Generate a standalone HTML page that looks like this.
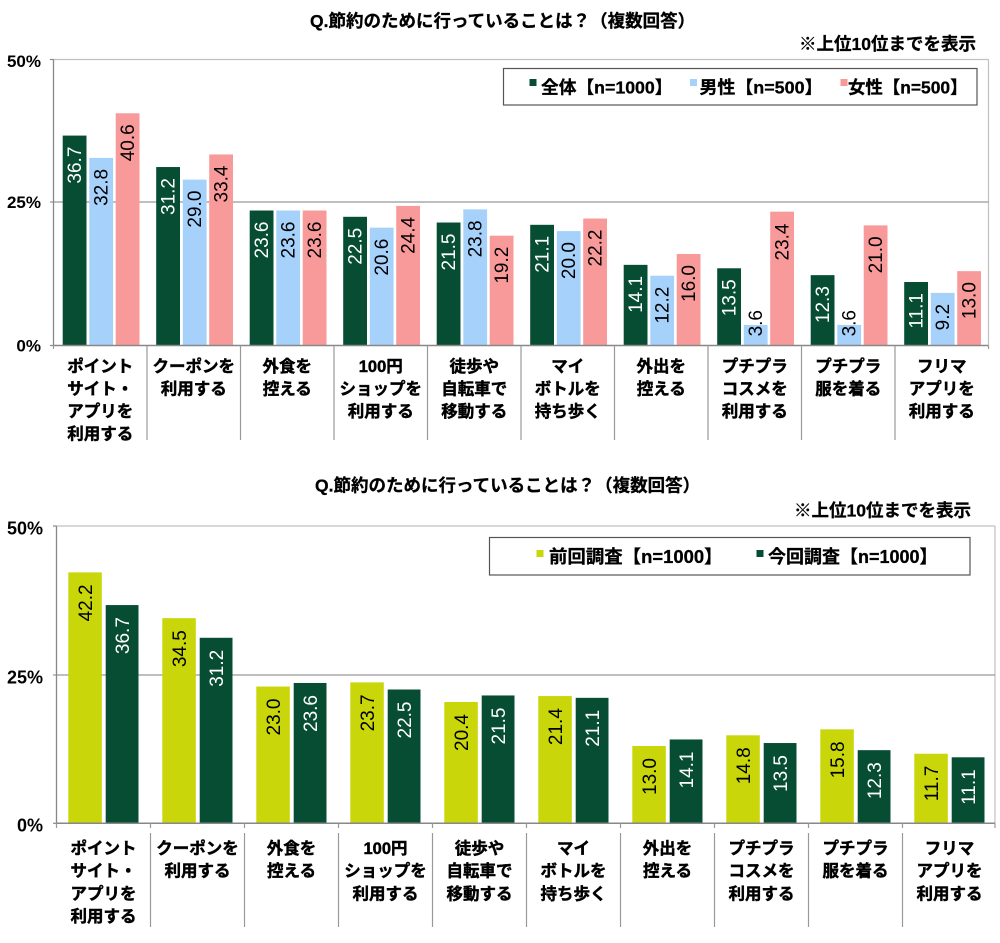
<!DOCTYPE html>
<html>
<head>
<meta charset="utf-8">
<style>
html,body{margin:0;padding:0;background:#fff;}
svg{display:block;}
.t{font-family:"Liberation Sans","Noto Sans CJK JP",sans-serif;font-weight:bold;fill:#000;stroke:#000;stroke-width:0.3;}
.y{font-family:"Liberation Sans",sans-serif;font-weight:bold;fill:#000;text-anchor:end;}
.v{font-family:"Liberation Sans",sans-serif;font-size:19px;text-anchor:end;}
.w{fill:#fff;}
.k{fill:#000;}
.c{font-family:"Liberation Sans","Noto Sans CJK JP",sans-serif;font-weight:bold;font-size:16.5px;text-anchor:middle;fill:#000;stroke:#000;stroke-width:0.45;}
</style>
</head>
<body>
<svg width="1000" height="943" viewBox="0 0 1000 943" xmlns="http://www.w3.org/2000/svg">
<rect x="0" y="0" width="1000" height="943" fill="#fff"/>

<!-- ================= TOP CHART ================= -->
<text class="t" x="310" y="27" font-size="17.5">Q.節約のために行っていることは？（複数回答）</text>
<text class="t" x="976" y="50" font-size="17.5" text-anchor="end">※上位10位までを表示</text>

<line x1="53.5" y1="59.5" x2="988.5" y2="59.5" stroke="#c0c0c0" stroke-width="1.2"/>
<line x1="988.5" y1="59.5" x2="988.5" y2="345.5" stroke="#c0c0c0" stroke-width="1.2"/>
<line x1="50" y1="202" x2="988.5" y2="202" stroke="#999" stroke-width="1.2"/>
<line x1="53.5" y1="59.5" x2="53.5" y2="345.5" stroke="#888" stroke-width="1.3"/>
<line x1="50" y1="59.5" x2="53.5" y2="59.5" stroke="#888" stroke-width="1.2"/>
<line x1="50" y1="345.5" x2="53.5" y2="345.5" stroke="#888" stroke-width="1.2"/>

<text class="y" x="41" y="67" font-size="17">50%</text>
<text class="y" x="41" y="208" font-size="17">25%</text>
<text class="y" x="41" y="351.5" font-size="17">0%</text>

<rect x="503.5" y="68.5" width="473.5" height="36.5" fill="#fff" stroke="#555" stroke-width="1.2"/>
<rect x="529.5" y="79" width="7" height="7" fill="#064D33"/>
<text class="t" x="541" y="93.5" font-size="17.5" textLength="131.5" lengthAdjust="spacingAndGlyphs">全体【n=1000】</text>
<rect x="690" y="79" width="7" height="7" fill="#A6D1FB"/>
<text class="t" x="699.5" y="93.5" font-size="17.5" textLength="123" lengthAdjust="spacingAndGlyphs">男性【n=500】</text>
<rect x="840.5" y="79" width="7" height="7" fill="#F99A9A"/>
<text class="t" x="848" y="93.5" font-size="17.5" textLength="119.5" lengthAdjust="spacingAndGlyphs">女性【n=500】</text>

<g fill="#064D33">
<rect x="62.7" y="135.58" width="23.8" height="209.92"/>
<rect x="156.2" y="167.04" width="23.8" height="178.46"/>
<rect x="249.7" y="210.51" width="23.8" height="134.99"/>
<rect x="343.2" y="216.8" width="23.8" height="128.7"/>
<rect x="436.7" y="222.52" width="23.8" height="122.98"/>
<rect x="530.2" y="224.81" width="23.8" height="120.69"/>
<rect x="623.7" y="264.85" width="23.8" height="80.65"/>
<rect x="717.2" y="268.28" width="23.8" height="77.22"/>
<rect x="810.7" y="275.14" width="23.8" height="70.36"/>
<rect x="904.2" y="282.01" width="23.8" height="63.49"/>
</g>
<g fill="#A6D1FB">
<rect x="89.3" y="157.88" width="23.8" height="187.62"/>
<rect x="182.8" y="179.62" width="23.8" height="165.88"/>
<rect x="276.3" y="210.51" width="23.8" height="134.99"/>
<rect x="369.8" y="227.67" width="23.8" height="117.83"/>
<rect x="463.3" y="209.36" width="23.8" height="136.14"/>
<rect x="556.8" y="231.1" width="23.8" height="114.4"/>
<rect x="650.3" y="275.72" width="23.8" height="69.78"/>
<rect x="743.8" y="324.91" width="23.8" height="20.59"/>
<rect x="837.3" y="324.91" width="23.8" height="20.59"/>
<rect x="930.8" y="292.88" width="23.8" height="52.62"/>
</g>
<g fill="#F99A9A">
<rect x="115.7" y="113.27" width="23.8" height="232.23"/>
<rect x="209.2" y="154.45" width="23.8" height="191.05"/>
<rect x="302.7" y="210.51" width="23.8" height="134.99"/>
<rect x="396.2" y="205.93" width="23.8" height="139.57"/>
<rect x="489.7" y="235.68" width="23.8" height="109.82"/>
<rect x="583.2" y="218.52" width="23.8" height="126.98"/>
<rect x="676.7" y="253.98" width="23.8" height="91.52"/>
<rect x="770.2" y="211.65" width="23.8" height="133.85"/>
<rect x="863.7" y="225.38" width="23.8" height="120.12"/>
<rect x="957.2" y="271.14" width="23.8" height="74.36"/>
</g>

<line x1="53.5" y1="345.5" x2="988.5" y2="345.5" stroke="#888" stroke-width="1.5"/>
<g stroke="#999" stroke-width="1.2">
<line x1="147" y1="345.5" x2="147" y2="440"/>
<line x1="240.5" y1="345.5" x2="240.5" y2="440"/>
<line x1="334" y1="345.5" x2="334" y2="440"/>
<line x1="427.5" y1="345.5" x2="427.5" y2="440"/>
<line x1="521" y1="345.5" x2="521" y2="440"/>
<line x1="614.5" y1="345.5" x2="614.5" y2="440"/>
<line x1="708" y1="345.5" x2="708" y2="440"/>
<line x1="801.5" y1="345.5" x2="801.5" y2="440"/>
<line x1="895" y1="345.5" x2="895" y2="440"/>
<line x1="53.5" y1="345.5" x2="53.5" y2="349"/>
<line x1="988.5" y1="345.5" x2="988.5" y2="349"/>
</g>

<g>
<text class="v w" transform="translate(81.1,146.6) rotate(-90)">36.7</text>
<text class="v w" transform="translate(174.6,178) rotate(-90)">31.2</text>
<text class="v w" transform="translate(268.1,221.5) rotate(-90)">23.6</text>
<text class="v w" transform="translate(361.6,227.8) rotate(-90)">22.5</text>
<text class="v w" transform="translate(455.1,233.5) rotate(-90)">21.5</text>
<text class="v w" transform="translate(548.6,235.8) rotate(-90)">21.1</text>
<text class="v w" transform="translate(642.1,275.9) rotate(-90)">14.1</text>
<text class="v w" transform="translate(735.6,279.3) rotate(-90)">13.5</text>
<text class="v w" transform="translate(829.1,286.1) rotate(-90)">12.3</text>
<text class="v w" transform="translate(922.6,293) rotate(-90)">11.1</text>

<text class="v k" transform="translate(107.7,168.9) rotate(-90)">32.8</text>
<text class="v k" transform="translate(201.2,190.6) rotate(-90)">29.0</text>
<text class="v k" transform="translate(294.7,221.5) rotate(-90)">23.6</text>
<text class="v k" transform="translate(388.2,238.7) rotate(-90)">20.6</text>
<text class="v k" transform="translate(481.7,220.4) rotate(-90)">23.8</text>
<text class="v k" transform="translate(575.2,242.1) rotate(-90)">20.0</text>
<text class="v k" transform="translate(668.7,286.7) rotate(-90)">12.2</text>
<text class="v k" transform="translate(762.2,310) rotate(-90)">3.6</text>
<text class="v k" transform="translate(855.7,310) rotate(-90)">3.6</text>
<text class="v k" transform="translate(949.2,303.9) rotate(-90)">9.2</text>

<text class="v k" transform="translate(134.1,124.3) rotate(-90)">40.6</text>
<text class="v k" transform="translate(227.6,165.5) rotate(-90)">33.4</text>
<text class="v k" transform="translate(321.1,221.5) rotate(-90)">23.6</text>
<text class="v k" transform="translate(414.6,216.9) rotate(-90)">24.4</text>
<text class="v k" transform="translate(508.1,246.7) rotate(-90)">19.2</text>
<text class="v k" transform="translate(601.6,229.5) rotate(-90)">22.2</text>
<text class="v k" transform="translate(695.1,265) rotate(-90)">16.0</text>
<text class="v k" transform="translate(788.6,223.5) rotate(-90)">23.4</text>
<text class="v k" transform="translate(882.1,236.4) rotate(-90)">21.0</text>
<text class="v k" transform="translate(975.6,282.1) rotate(-90)">13.0</text>
</g>

<text class="c" x="100.25" y="372">ポイント</text>
<text class="c" x="100.25" y="394.5">サイト・</text>
<text class="c" x="100.25" y="417">アプリを</text>
<text class="c" x="100.25" y="439.5">利用する</text>
<text class="c" x="193.75" y="372">クーポンを</text>
<text class="c" x="193.75" y="394.5">利用する</text>
<text class="c" x="287.25" y="372">外食を</text>
<text class="c" x="287.25" y="394.5">控える</text>
<text class="c" x="380.75" y="372">100円</text>
<text class="c" x="380.75" y="394.5">ショップを</text>
<text class="c" x="380.75" y="417">利用する</text>
<text class="c" x="474.25" y="372">徒歩や</text>
<text class="c" x="474.25" y="394.5">自転車で</text>
<text class="c" x="474.25" y="417">移動する</text>
<text class="c" x="567.75" y="372">マイ</text>
<text class="c" x="567.75" y="394.5">ボトルを</text>
<text class="c" x="567.75" y="417">持ち歩く</text>
<text class="c" x="661.25" y="372">外出を</text>
<text class="c" x="661.25" y="394.5">控える</text>
<text class="c" x="754.75" y="372">プチプラ</text>
<text class="c" x="754.75" y="394.5">コスメを</text>
<text class="c" x="754.75" y="417">利用する</text>
<text class="c" x="848.25" y="372">プチプラ</text>
<text class="c" x="848.25" y="394.5">服を着る</text>
<text class="c" x="941.75" y="372">フリマ</text>
<text class="c" x="941.75" y="394.5">アプリを</text>
<text class="c" x="941.75" y="417">利用する</text>

<!-- ================= BOTTOM CHART ================= -->
<text class="t" x="315" y="491.5" font-size="17.5">Q.節約のために行っていることは？（複数回答）</text>
<text class="t" x="971" y="516.5" font-size="17.5" text-anchor="end">※上位10位までを表示</text>

<line x1="56.5" y1="526" x2="995" y2="526" stroke="#c0c0c0" stroke-width="1.2"/>
<line x1="995" y1="526" x2="995" y2="823.3" stroke="#c0c0c0" stroke-width="1.2"/>
<line x1="53" y1="675" x2="995" y2="675" stroke="#999" stroke-width="1.2"/>
<line x1="56.5" y1="526" x2="56.5" y2="823.3" stroke="#888" stroke-width="1.3"/>
<line x1="53" y1="526" x2="56.5" y2="526" stroke="#888" stroke-width="1.2"/>
<line x1="53" y1="823.3" x2="56.5" y2="823.3" stroke="#888" stroke-width="1.2"/>

<text class="y" x="43" y="534.5" font-size="18">50%</text>
<text class="y" x="43" y="683.5" font-size="18">25%</text>
<text class="y" x="43" y="831.5" font-size="18">0%</text>

<rect x="489.5" y="537.5" width="480.5" height="37.5" fill="#fff" stroke="#555" stroke-width="1.2"/>
<rect x="536.5" y="550" width="7" height="7" fill="#C8D60A"/>
<text class="t" x="549" y="563" font-size="18" textLength="173.5" lengthAdjust="spacingAndGlyphs">前回調査【n=1000】</text>
<rect x="756.5" y="550" width="7" height="7" fill="#064D33"/>
<text class="t" x="768" y="563" font-size="18" textLength="169.5" lengthAdjust="spacingAndGlyphs">今回調査【n=1000】</text>

<g fill="#C8D60A">
<rect x="68.3" y="572.38" width="33.5" height="250.92"/>
<rect x="162.3" y="618.16" width="33.5" height="205.14"/>
<rect x="256.3" y="686.54" width="33.5" height="136.76"/>
<rect x="350.3" y="682.38" width="33.5" height="140.92"/>
<rect x="444.3" y="702" width="33.5" height="121.3"/>
<rect x="538.3" y="696.06" width="33.5" height="127.24"/>
<rect x="632.3" y="746" width="33.5" height="77.3"/>
<rect x="726.3" y="735.3" width="33.5" height="88"/>
<rect x="820.3" y="729.35" width="33.5" height="93.95"/>
<rect x="914.3" y="753.73" width="33.5" height="69.57"/>
</g>
<g fill="#064D33">
<rect x="105.7" y="605.08" width="32.8" height="218.22"/>
<rect x="199.7" y="637.78" width="32.8" height="185.52"/>
<rect x="293.7" y="682.97" width="32.8" height="140.33"/>
<rect x="387.7" y="689.51" width="32.8" height="133.79"/>
<rect x="481.7" y="695.46" width="32.8" height="127.84"/>
<rect x="575.7" y="697.84" width="32.8" height="125.46"/>
<rect x="669.7" y="739.46" width="32.8" height="83.84"/>
<rect x="763.7" y="743.03" width="32.8" height="80.27"/>
<rect x="857.7" y="750.16" width="32.8" height="73.14"/>
<rect x="951.7" y="757.3" width="32.8" height="66"/>
</g>

<line x1="56.5" y1="823.3" x2="995" y2="823.3" stroke="#888" stroke-width="1.5"/>
<g stroke="#999" stroke-width="1.2">
<line x1="150.5" y1="823.3" x2="150.5" y2="828"/>
<line x1="244.5" y1="823.3" x2="244.5" y2="828"/>
<line x1="338.5" y1="823.3" x2="338.5" y2="828"/>
<line x1="432.5" y1="823.3" x2="432.5" y2="828"/>
<line x1="526.5" y1="823.3" x2="526.5" y2="828"/>
<line x1="620.5" y1="823.3" x2="620.5" y2="828"/>
<line x1="714.5" y1="823.3" x2="714.5" y2="828"/>
<line x1="808.5" y1="823.3" x2="808.5" y2="828"/>
<line x1="902.5" y1="823.3" x2="902.5" y2="828"/>
<line x1="56.5" y1="823.3" x2="56.5" y2="828"/>
<line x1="995" y1="823.3" x2="995" y2="828"/>
<line x1="150.5" y1="833" x2="150.5" y2="927"/>
<line x1="244.5" y1="833" x2="244.5" y2="927"/>
<line x1="338.5" y1="833" x2="338.5" y2="927"/>
<line x1="432.5" y1="833" x2="432.5" y2="927"/>
<line x1="526.5" y1="833" x2="526.5" y2="927"/>
<line x1="620.5" y1="833" x2="620.5" y2="927"/>
<line x1="714.5" y1="833" x2="714.5" y2="927"/>
<line x1="808.5" y1="833" x2="808.5" y2="927"/>
<line x1="902.5" y1="833" x2="902.5" y2="927"/>
</g>

<g>
<text class="v k" transform="translate(91.85,584.4) rotate(-90)">42.2</text>
<text class="v k" transform="translate(185.85,630.2) rotate(-90)">34.5</text>
<text class="v k" transform="translate(279.85,698.5) rotate(-90)">23.0</text>
<text class="v k" transform="translate(373.85,694.4) rotate(-90)">23.7</text>
<text class="v k" transform="translate(467.85,714) rotate(-90)">20.4</text>
<text class="v k" transform="translate(561.85,708.1) rotate(-90)">21.4</text>
<text class="v k" transform="translate(655.85,758) rotate(-90)">13.0</text>
<text class="v k" transform="translate(749.85,747.3) rotate(-90)">14.8</text>
<text class="v k" transform="translate(843.85,741.4) rotate(-90)">15.8</text>
<text class="v k" transform="translate(937.85,765.7) rotate(-90)">11.7</text>

<text class="v w" transform="translate(128.9,617.1) rotate(-90)">36.7</text>
<text class="v w" transform="translate(222.9,649.8) rotate(-90)">31.2</text>
<text class="v w" transform="translate(316.9,695) rotate(-90)">23.6</text>
<text class="v w" transform="translate(410.9,701.5) rotate(-90)">22.5</text>
<text class="v w" transform="translate(504.9,707.5) rotate(-90)">21.5</text>
<text class="v w" transform="translate(598.9,709.8) rotate(-90)">21.1</text>
<text class="v w" transform="translate(692.9,751.5) rotate(-90)">14.1</text>
<text class="v w" transform="translate(786.9,755) rotate(-90)">13.5</text>
<text class="v w" transform="translate(880.9,762.2) rotate(-90)">12.3</text>
<text class="v w" transform="translate(974.9,769.3) rotate(-90)">11.1</text>
</g>

<text class="c" x="103.5" y="853.8">ポイント</text>
<text class="c" x="103.5" y="876.6">サイト・</text>
<text class="c" x="103.5" y="899.4">アプリを</text>
<text class="c" x="103.5" y="922.2">利用する</text>
<text class="c" x="197.5" y="853.8">クーポンを</text>
<text class="c" x="197.5" y="876.6">利用する</text>
<text class="c" x="291.5" y="853.8">外食を</text>
<text class="c" x="291.5" y="876.6">控える</text>
<text class="c" x="385.5" y="853.8">100円</text>
<text class="c" x="385.5" y="876.6">ショップを</text>
<text class="c" x="385.5" y="899.4">利用する</text>
<text class="c" x="479.5" y="853.8">徒歩や</text>
<text class="c" x="479.5" y="876.6">自転車で</text>
<text class="c" x="479.5" y="899.4">移動する</text>
<text class="c" x="573.5" y="853.8">マイ</text>
<text class="c" x="573.5" y="876.6">ボトルを</text>
<text class="c" x="573.5" y="899.4">持ち歩く</text>
<text class="c" x="667.5" y="853.8">外出を</text>
<text class="c" x="667.5" y="876.6">控える</text>
<text class="c" x="761.5" y="853.8">プチプラ</text>
<text class="c" x="761.5" y="876.6">コスメを</text>
<text class="c" x="761.5" y="899.4">利用する</text>
<text class="c" x="855.5" y="853.8">プチプラ</text>
<text class="c" x="855.5" y="876.6">服を着る</text>
<text class="c" x="949.5" y="853.8">フリマ</text>
<text class="c" x="949.5" y="876.6">アプリを</text>
<text class="c" x="949.5" y="899.4">利用する</text>
</svg>
</body>
</html>
